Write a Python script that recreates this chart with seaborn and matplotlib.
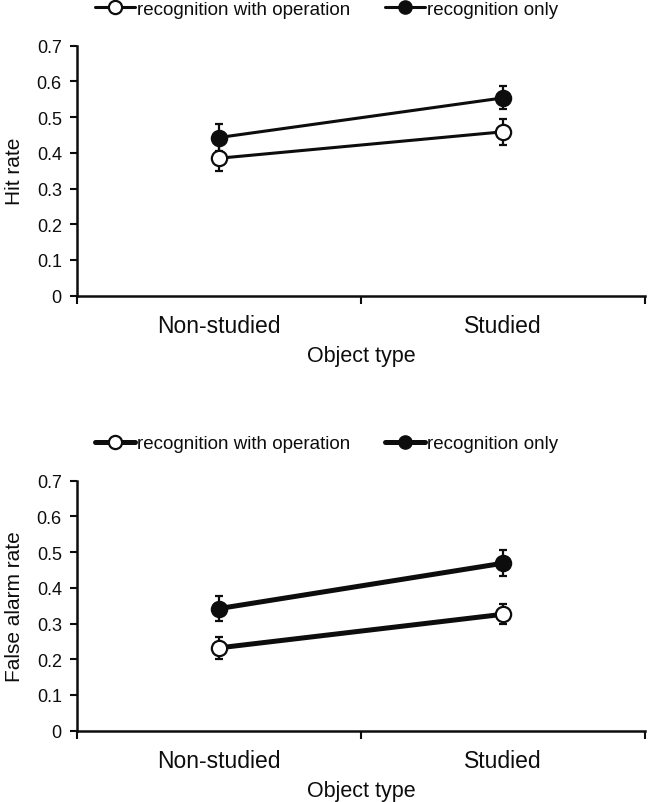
import numpy as np
import pandas as pd
import matplotlib
matplotlib.use("Agg")
import matplotlib.pyplot as plt
import seaborn as sns
from matplotlib.lines import Line2D

# -------------------------------------------------------
# Data
# -------------------------------------------------------
object_types = ["Non-studied", "Studied"]
groups = ["recognition with operation", "recognition only"]

hit_with_op = [0.385, 0.459]
hit_with_op_err = [0.036, 0.036]
hit_only = [0.443, 0.554]
hit_only_err = [0.037, 0.032]

fa_with_op = [0.232, 0.326]
fa_with_op_err = [0.031, 0.028]
fa_only = [0.342, 0.469]
fa_only_err = [0.034, 0.036]

sns.set_style("white")
plt.rcParams["font.family"] = ["Liberation Sans", "DejaVu Sans"]

fig = plt.figure(figsize=(6.48, 8.03), dpi=100)
ax1 = fig.add_axes([0.119, 0.6305, 0.8765, 0.3113])
ax2 = fig.add_axes([0.119, 0.0888, 0.8765, 0.3113])

ink = "#0d0d0d"


def draw_panel(ax, vals_op, err_op, vals_only, err_only, ylabel, lw):
    df = pd.DataFrame({
        "Object type": object_types * 2,
        "rate": vals_op + vals_only,
        "group": [groups[0]] * 2 + [groups[1]] * 2,
    })
    # error bars first so the markers sit on top
    ax.errorbar(object_types, vals_op, yerr=err_op, fmt="none", ecolor=ink,
                elinewidth=1.6, capsize=3.2, capthick=1.6, zorder=2)
    ax.errorbar(object_types, vals_only, yerr=err_only, fmt="none", ecolor=ink,
                elinewidth=1.6, capsize=3.2, capthick=1.6, zorder=2)
    sns.lineplot(data=df[df.group == groups[0]], x="Object type", y="rate",
                 ax=ax, color=ink, lw=lw, marker="o", markersize=11,
                 markerfacecolor="white", markeredgecolor=ink,
                 markeredgewidth=1.6, zorder=3, legend=False)
    sns.lineplot(data=df[df.group == groups[1]], x="Object type", y="rate",
                 ax=ax, color=ink, lw=lw, marker="o", markersize=11,
                 markerfacecolor=ink, markeredgecolor=ink,
                 markeredgewidth=1.6, zorder=3, legend=False)

    ax.set_xlim(-0.5, 1.5)
    ax.set_ylim(0, 0.7)
    ax.set_yticks(np.arange(0, 0.71, 0.1))
    ax.set_yticklabels(["0"] + [f"{v:.1f}" for v in np.arange(0.1, 0.71, 0.1)],
                       fontsize=13)
    # category labels in between tick marks, like an Excel chart
    ax.set_xticks([-0.5, 0.5, 1.5])
    ax.set_xticklabels([])
    ax.set_xticks([0, 1], minor=True)
    ax.set_xticklabels(object_types, minor=True, fontsize=16.5)
    ax.tick_params(axis="x", which="major", direction="out", length=6,
                   width=1.5, color=ink, bottom=True)
    ax.tick_params(axis="x", which="minor", length=0, pad=13, colors=ink)
    ax.tick_params(axis="y", direction="out", length=5, width=1.5,
                   color=ink, left=True, pad=6, labelcolor=ink)

    for s in ["top", "right"]:
        ax.spines[s].set_visible(False)
    for s in ["left", "bottom"]:
        ax.spines[s].set_color(ink)
        ax.spines[s].set_linewidth(1.8)

    ax.set_xlabel("Object type", fontsize=15.5, color=ink, labelpad=6)
    ax.set_ylabel(ylabel, fontsize=15, color=ink)
    ax.yaxis.set_label_coords(-0.093, 0.5)

    handles = [
        Line2D([], [], color=ink, lw=lw, marker="o", markersize=9.5,
               markerfacecolor="white", markeredgecolor=ink, markeredgewidth=1.6),
        Line2D([], [], color=ink, lw=lw, marker="o", markersize=9.5,
               markerfacecolor=ink, markeredgecolor=ink),
    ]
    return handles


h1 = draw_panel(ax1, hit_with_op, hit_with_op_err, hit_only, hit_only_err,
                "Hit rate", 2.2)
h2 = draw_panel(ax2, fa_with_op, fa_with_op_err, fa_only, fa_only_err,
                "False alarm rate", 3.6)

for h, y in [(h1, 0.9875), (h2, 0.446)]:
    leg = fig.legend(h, groups, loc="center left", bbox_to_anchor=(0.1466, y),
                     ncol=2, frameon=False, fontsize=13.5, handlelength=2.13,
                     handletextpad=0.1, columnspacing=1.87, borderaxespad=0,
                     borderpad=0)
    for t in leg.get_texts():
        t.set_color(ink)

fig.savefig("out.png", dpi=100)
